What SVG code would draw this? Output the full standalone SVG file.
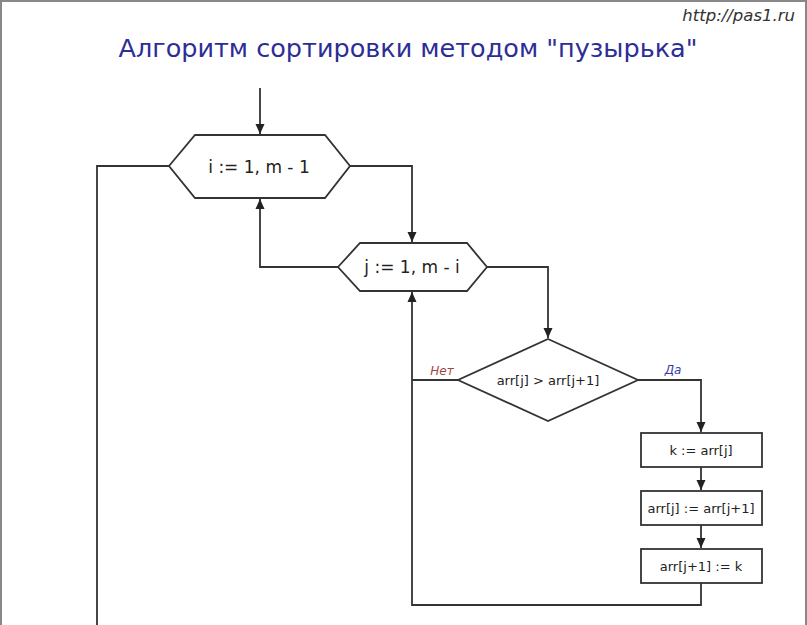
<svg xmlns="http://www.w3.org/2000/svg" width="807" height="625" viewBox="0 0 807 625">
<style>
.shape{fill:#fff;stroke:#333;stroke-width:1.8}
.conn{fill:none;stroke:#333;stroke-width:1.8}
.t{font-family:"DejaVu Sans",sans-serif;fill:#222;text-anchor:middle;dominant-baseline:central}
.big{font-size:17px}
.small{font-size:13px}
.lbl{font-family:"DejaVu Sans",sans-serif;font-style:italic;font-size:12px}
</style>
<defs>
<marker id="arr" viewBox="0 0 10 10" refX="10" refY="5" markerWidth="10" markerHeight="10" markerUnits="userSpaceOnUse" orient="auto">
<path d="M0,0.5 L10,5 L0,9.5 Z" fill="#222"/>
</marker>
</defs>
<rect x="0" y="0" width="807" height="625" fill="#fff"/>
<g id="frame" fill="none" stroke="#888" stroke-width="2">
<line x1="1" y1="0" x2="1" y2="625"/>
<line x1="0" y1="1" x2="807" y2="1"/>
<line x1="806" y1="0" x2="806" y2="625"/>
</g>
<text id="url" x="795" y="21" text-anchor="end" font-family="DejaVu Sans,sans-serif" font-style="italic" font-size="16.5" fill="#333">http://pas1.ru</text>
<text id="title" x="408" y="57" text-anchor="middle" font-family="DejaVu Sans,sans-serif" font-size="25.5" fill="#2d2d96">Алгоритм сортировки методом "пузырька"</text>
<g id="connectors">
<path class="conn" d="M260,88 V134" marker-end="url(#arr)"/>
<path class="conn" d="M169,166 H97 V625"/>
<path class="conn" d="M350,166 H412 V242" marker-end="url(#arr)"/>
<path class="conn" d="M338,267 H260 V199" marker-end="url(#arr)"/>
<path class="conn" d="M487,267 H548 V338" marker-end="url(#arr)"/>
<path class="conn" d="M458,380 H412"/>
<path class="conn" d="M638,380 H701 V432" marker-end="url(#arr)"/>
<path class="conn" d="M701,467 V490" marker-end="url(#arr)"/>
<path class="conn" d="M701,525 V548" marker-end="url(#arr)"/>
<path class="conn" d="M701,583 V605 H412 V292" marker-end="url(#arr)"/>
</g>
<g id="loop-i">
<polygon class="shape" points="169,166 195,135 325,135 350,166 325,198 195,198"/>
<text class="t big" x="259" y="167">i := 1, m - 1</text>
</g>
<g id="loop-j">
<polygon class="shape" points="338,267 360,243 467,243 487,267 467,291 360,291"/>
<text class="t big" x="412" y="267">j := 1, m - i</text>
</g>
<g id="cond">
<polygon class="shape" points="548,339 638,380 548,421 458,380"/>
<text class="t small" x="548" y="380">arr[j] &gt; arr[j+1]</text>
<text class="lbl" x="442" y="375" text-anchor="middle" fill="#a04848">Нет</text>
<text class="lbl" x="673" y="374" text-anchor="middle" fill="#3a3aa8">Да</text>
</g>
<g id="step1">
<rect class="shape" x="641" y="433" width="121" height="34"/>
<text class="t small" x="701" y="450">k := arr[j]</text>
</g>
<g id="step2">
<rect class="shape" x="641" y="491" width="121" height="34"/>
<text class="t small" x="701" y="508">arr[j] := arr[j+1]</text>
</g>
<g id="step3">
<rect class="shape" x="641" y="549" width="121" height="34"/>
<text class="t small" x="701" y="566">arr[j+1] := k</text>
</g>
</svg>
